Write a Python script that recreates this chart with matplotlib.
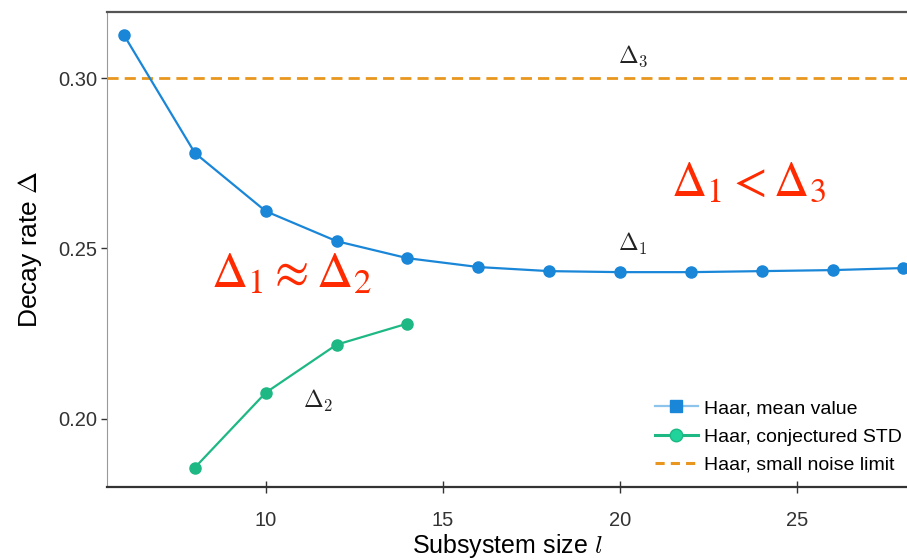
import matplotlib.pyplot as plt
from matplotlib.lines import Line2D

# data
l_mean = [6, 8, 10, 12, 14, 16, 18, 20, 22, 24, 26, 28]
delta_mean = [0.3126, 0.2780, 0.2609, 0.2521, 0.2471, 0.2445, 0.2433,
              0.2430, 0.2430, 0.2433, 0.2436, 0.2442]
l_std = [8, 10, 12, 14]
delta_std = [0.1856, 0.2076, 0.2217, 0.2279]
delta_small_noise = 0.30

blue = '#1a86d8'
green = '#1db883'
orange = '#e8961e'
red = '#ff2a00'

plt.rcParams['font.family'] = ['Liberation Sans', 'DejaVu Sans']
plt.rcParams['mathtext.fontset'] = 'cm'

fig = plt.figure(figsize=(9.07, 5.60), dpi=100)
ax = fig.add_axes([107 / 907, (560 - 487) / 560, 800 / 907, 475 / 560])

ax.plot(l_mean, delta_mean, '-o', color=blue, lw=1.6, ms=8, zorder=3)
ax.plot(l_std, delta_std, '-o', color=green, lw=1.6, ms=8, zorder=3)
ax.axhline(delta_small_noise, color=orange, lw=2, ls=(0, (4, 2.2)), zorder=2)

ax.set_xlim(5.52, 28.1)
ax.set_ylim(0.1799, 0.3194)
ax.set_xticks([10, 15, 20, 25])
ax.set_yticks([0.20, 0.25, 0.30])
ax.set_yticklabels(['0.20', '0.25', '0.30'])
ax.tick_params(axis='both', labelsize=14.5, colors='#333333', width=1)
ax.tick_params(axis='x', direction='inout', length=8, pad=13)
ax.tick_params(axis='y', direction='out', length=4, pad=3)

ax.spines['right'].set_visible(False)
ax.spines['left'].set_color('#999999')
ax.spines['bottom'].set_color('#333333')
ax.spines['bottom'].set_linewidth(1.6)
ax.spines['top'].set_color('#555555')
ax.spines['top'].set_linewidth(1.6)

ax.set_xlabel('Subsystem size $\\mathit{l}$', fontsize=18, labelpad=2)
ax.set_ylabel('Decay rate $\\Delta$', fontsize=19, labelpad=10)

# curve labels
ax.text(19.95, 0.2493, r'$\Delta_1$', fontsize=17, color='#222222')
ax.text(19.95, 0.3043, r'$\Delta_3$', fontsize=17, color='#222222')
ax.text(11.05, 0.2030, r'$\Delta_2$', fontsize=17, color='#222222')

# red remarks
ax.text(21.45, 0.2656, r'$\Delta_1 < \Delta_3$', fontsize=35, color=red,
        math_fontfamily='stix')
ax.text(8.45, 0.2385, r'$\Delta_1 \approx \Delta_2$', fontsize=36, color=red,
        math_fontfamily='stix')

handles = [
    Line2D([], [], color='#8cc4ec', lw=1.6, marker='s', ms=8,
           mfc=blue, mec=blue),
    Line2D([], [], color=green, lw=2.2, marker='o', ms=9,
           mfc='#1fd39a', mec=green),
    Line2D([], [], color=orange, lw=2.2, ls=(0, (3, 2))),
]
labels = ['Haar, mean value', 'Haar, conjectured STD', 'Haar, small noise limit']
ax.legend(handles, labels, loc='upper left', bbox_to_anchor=(0.685, 0.184),
          frameon=False, fontsize=14, handlelength=2.2, handletextpad=0.3,
          labelspacing=0.55, borderaxespad=0, borderpad=0)

fig.savefig('out.png', dpi=100)
